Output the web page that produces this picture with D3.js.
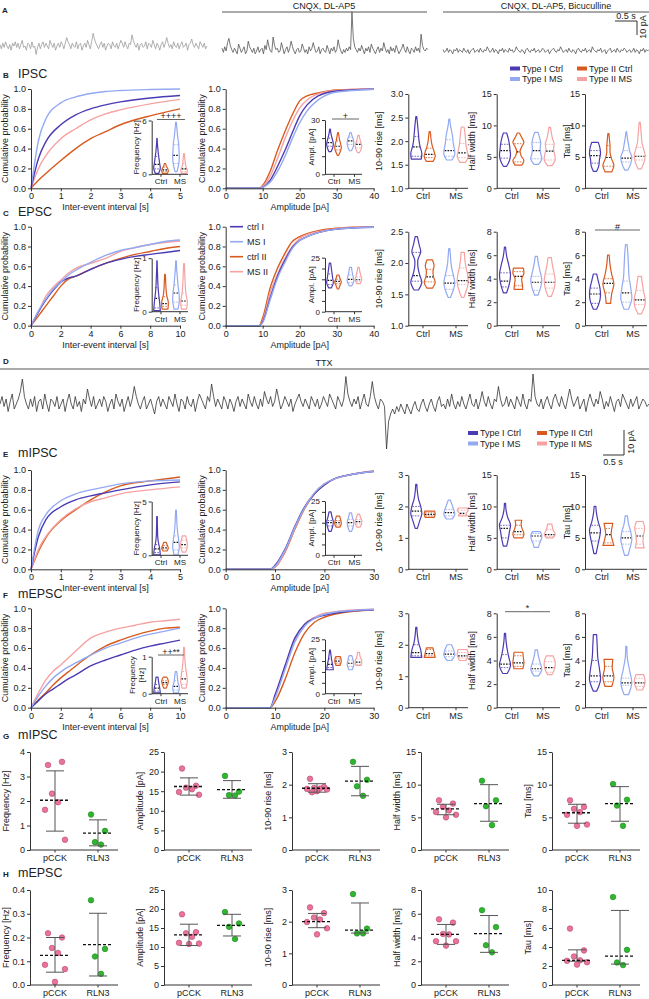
<!DOCTYPE html>
<html>
<head>
<meta charset="utf-8">
<script src="https://cdn.jsdelivr.net/npm/d3@7"></script>
<style>
  body { margin: 0; background: #fff; }
  svg { display: block; }
</style>
</head>
<body>
<svg id="fig" width="649" height="999"></svg>
<script>
const FONT = "'Liberation Sans', Arial, sans-serif";
const AX = "#333";
const svg = d3.select("#fig").attr("font-family", FONT);

// ---------- data ----------
// group order everywhere: ctrl I, MS I, ctrl II, MS II
const groupNames = ["ctrl I", "MS I", "ctrl II", "MS II"];
const legendNames = ["Type I Ctrl", "Type I MS", "Type II Ctrl", "Type II MS"];
const groupColors = ["#4b3bb3", "#93a9f2", "#d95a1e", "#f6a2a2"];
const conditions = ["Ctrl", "MS"];
const cellTypes = ["pCCK", "RLN3"];

// example traces, pA (events point up)
const traceA1 = [1,-2,2,-1,3,0,-2,1,-3,2, 0,3,-1,2,-2,1,4,-1,0,-3, 2,1,-2,3,-1,0,-6,-1,2,-2, 1,3,-1,2,0,-2,4,1,-1,2,
  -3,0,2,-1,3,1,-2,2,6,3, 1,-2,2,0,-1,3,-2,1,2,-3, 0,2,-1,4,1,-2,3,9,5,2, 0,-2,1,3,-1,2,-3,0,2,1,
  -2,3,0,-1,2,-2,1,4,2,-1, 3,0,-2,2,1,8,4,1,-1,2, -3,1,2,-1,0,3,-2,2,1,-1, 4,1,-2,2,0,-3,1,3,-1,2,
  6,2,-1,1,-2,3,0,-1,2,-2, 1,3,-1,0,2,-3,1,2,5,1, -1,2,0,-2,3,1,-1,2,-2,0];
const traceA2 = [2,-1,3,0,6,9,4,1,-1,2, 0,-2,5,2,-1,1,3,-2,0,7, 3,1,-1,2,-2,0,3,-1,1,2, -2,4,1,8,3,0,-1,10,4,1,
  2,-1,0,6,2,-2,1,3,-1,2, 7,3,0,-2,1,2,-1,0,5,2, -1,1,-2,3,0,2,6,2,-1,0, 3,-2,1,2,0,-1,4,1,-2,2,
  0,3,-1,1,8,3,0,-2,1,-1, 2,0,3,1,28,9,3,1,-1,2, 0,4,1,-2,2,0,3,-1,5,2, 0,-2,1,3,-1,2,0,6,2,-1,
  1,-2,3,0,2,-1,4,1,-2,0, 2,5,1,-1,3,0,-2,2,1,-1, 3,0,2,-1,12,4,1,0,2,1];
const traceA3 = [1,-1,0,2,-1,1,0,-2,1,0, 2,-1,1,0,-1,2,0,-1,1,-2, 0,1,2,-1,0,1,-1,2,0,-1, 1,0,3,1,-1,0,2,-1,1,0,
  -2,1,0,2,-1,1,0,-1,2,0, 1,-1,0,3,1,0,-1,1,0,-2, 1,2,0,-1,1,0,2,-1,0,1, -1,0,2,1,-1,0,1,-2,0,1,
  2,0,-1,1,0,3,1,-1,0,1, -1,2,0,-1,1,0,-2,1,2,0, -1,1,0,2,-1,0,1,-1,3,1, 0,-1,1,0,2,-1,0,1,-2,0,
  1,2,-1,0,1,-1,2,0,-1,1, 0,2,1,-1,0,1,-1,0,2,-1, 1,0,-2,1,0,2,-1,1,0,1];
const traceD = [0,3,-1,2,-3,1,4,-2,0,2, 5,10,3,0,-2,2,-1,3,-3,1, 2,-2,4,0,-3,2,1,-1,3,-2, 0,2,-3,1,4,0,-2,3,-1,1,
  -3,2,0,6,2,-1,3,-2,0,2, -1,3,1,-3,0,2,-2,4,1,-1, 2,-3,0,3,-1,2,7,3,0,-2, 1,3,-2,0,2,-1,-4,1,3,-1,
  2,0,-2,3,1,-1,4,0,-3,2, 1,-2,3,0,-1,2,-3,1,4,2, 0,-2,3,1,8,3,-1,2,0,-2, 3,1,-2,2,0,-3,1,3,-1,2,
  0,-2,4,1,-1,3,0,-2,2,-1, 5,2,0,3,-1,1,6,2,-2,0, 3,1,-1,2,-3,0,2,4,1,-1, 2,0,-2,3,1,-1,2,-2,0,3,
  1,-1,4,2,0,-2,3,1,-1,2, 11,4,1,-1,2,0,3,-2,1,4, 0,-1,3,9,3,0,-2,2,1,-1, -18,-7,-4,-2,-4,-1,-3,0,-2,-4,
  0,-2,-4,-1,1,-2,-3,0,2,-1, -3,0,2,-1,-3,1,3,-1,0,-2, 2,-1,4,0,-2,1,-1,3,0,-2, 1,4,0,-1,2,-2,1,5,1,-1,
  3,0,-2,2,1,7,2,-1,0,3, -1,2,0,-2,3,1,-1,4,0,-2, 2,1,12,3,0,-1,2,-2,1,3, 0,-2,2,4,1,-1,3,0,-2,2,
  6,2,-1,1,3,-2,0,2,-3,1, 4,1,-1,2,0,5,2,-2,1,-1, 3,0,-3,1,2,-1,4,2,0,-2, 2,-1,1,3,-2,0,2,1,-1,0];

// cumulative distributions: x grids and y values per group
const ieiX5 = [0,0.25,0.5,1,1.5,2,2.5,3,4,5];
const ieiX10 = [0,0.5,1,1.5,2,2.5,3,4,5,6,7,8,9,10];
const ampX40 = [0,9,10,12,14,16,18,20,22,25,30,40];
const ampX30 = [0,9,10,12,14,16,18,20,22,25,30];

const ipscIei = [
  [0,0.3,0.47,0.64,0.74,0.8,0.84,0.87,0.91,0.935],
  [0,0.48,0.7,0.86,0.92,0.955,0.975,0.985,0.995,1.0],
  [0,0.08,0.15,0.28,0.4,0.5,0.57,0.64,0.73,0.8],
  [0,0.2,0.33,0.5,0.6,0.69,0.75,0.79,0.85,0.895]];
const ipscAmp = [
  [0,0,0.01,0.08,0.22,0.38,0.56,0.73,0.84,0.93,0.98,0.998],
  [0,0,0.01,0.06,0.17,0.32,0.5,0.66,0.78,0.89,0.97,0.998],
  [0,0,0.03,0.17,0.38,0.57,0.74,0.88,0.93,0.96,0.99,1],
  [0,0,0.02,0.12,0.3,0.5,0.67,0.81,0.89,0.95,0.985,1]];
const epscIei = [
  [0,0.14,0.26,0.36,0.44,0.48,0.5,0.57,0.63,0.67,0.7,0.72,0.74,0.76],
  [0,0.15,0.27,0.37,0.44,0.51,0.56,0.64,0.71,0.76,0.79,0.82,0.85,0.865],
  [0,0.1,0.2,0.3,0.4,0.47,0.5,0.57,0.63,0.68,0.72,0.75,0.78,0.8],
  [0,0.14,0.3,0.39,0.46,0.53,0.58,0.63,0.68,0.75,0.79,0.82,0.84,0.855]];
const epscAmp = [
  [0,0,0.04,0.28,0.5,0.66,0.79,0.86,0.9,0.94,0.975,0.995],
  [0,0,0.03,0.26,0.48,0.64,0.78,0.86,0.9,0.94,0.975,0.995],
  [0,0,0.08,0.38,0.58,0.73,0.85,0.9,0.93,0.96,0.985,1],
  [0,0,0.05,0.33,0.52,0.68,0.8,0.88,0.92,0.95,0.98,1]];
const mipscIei = [
  [0,0.33,0.5,0.63,0.7,0.74,0.77,0.8,0.85,0.88],
  [0,0.4,0.55,0.69,0.76,0.8,0.83,0.86,0.89,0.9],
  [0,0.18,0.32,0.49,0.6,0.7,0.78,0.84,0.89,0.93],
  [0,0.2,0.33,0.5,0.61,0.68,0.72,0.76,0.8,0.83]];
const mipscAmp = [
  [0,0,0.04,0.2,0.43,0.63,0.76,0.85,0.91,0.95,0.985],
  [0,0,0.03,0.19,0.42,0.62,0.77,0.86,0.91,0.95,0.985],
  [0,0,0.02,0.17,0.4,0.61,0.76,0.85,0.91,0.95,0.99],
  [0,0,0.02,0.18,0.41,0.62,0.77,0.86,0.91,0.95,0.99]];
const mepscIei = [
  [0,0.07,0.14,0.19,0.24,0.29,0.33,0.42,0.48,0.53,0.58,0.62,0.65,0.68],
  [0,0.12,0.22,0.3,0.36,0.41,0.45,0.53,0.6,0.65,0.7,0.74,0.77,0.8],
  [0,0.08,0.15,0.23,0.3,0.36,0.42,0.53,0.62,0.68,0.73,0.77,0.8,0.81],
  [0,0.15,0.28,0.37,0.43,0.5,0.57,0.7,0.76,0.8,0.83,0.86,0.875,0.89]];
const mepscAmp = [
  [0,0,0.13,0.42,0.7,0.84,0.9,0.93,0.95,0.97,0.985],
  [0,0,0.1,0.38,0.66,0.82,0.9,0.94,0.96,0.975,0.99],
  [0,0,0.06,0.28,0.55,0.75,0.86,0.91,0.94,0.965,0.985],
  [0,0,0.11,0.4,0.68,0.84,0.91,0.95,0.965,0.98,0.99]];

// violins: [min, max, q1, median, q3, relative widths from min to max]
const ipscFreqV = [[0.1,4.0,0.6,1.1,2.0,[0.5,1,0.8,0.6,0.4,0.25,0.12,0.05]],[0.3,5.8,1.2,2.1,3.3,[0.3,0.8,1,0.9,0.8,0.5,0.3,0.12]],[0.1,1.2,0.3,0.5,0.8,[0.7,1,0.8,0.4,0.2]],[0.1,2.3,0.3,0.6,1.2,[0.8,1,0.6,0.4,0.3,0.2,0.1]]];
const ipscAmpV = [[12.5,25,15.5,17.5,20,[0.3,0.8,1,0.8,0.5,0.25,0.1]],[13,23,16.5,18.5,20.5,[0.3,0.8,1,0.9,0.5,0.2]],[10.5,23,13.5,15.5,18.5,[0.2,0.7,1,0.8,0.5,0.3,0.1]],[12,21.5,14.5,16.5,18,[0.3,0.8,1,0.7,0.4,0.2]]];
const ipscRise = [[1.62,2.52,1.68,1.88,2.1,[0.9,1,0.7,0.5,0.4,0.3,0.2,0.08]],[1.6,2.47,1.68,1.8,2.03,[0.5,1,0.9,0.7,0.6,0.4,0.2,0.08]],[1.57,2.2,1.65,1.72,1.85,[0.6,1,0.8,0.5,0.3,0.2,0.1]],[1.55,2.3,1.65,1.75,1.95,[0.5,1,0.8,0.6,0.5,0.4,0.25]]];
const ipscHalf = [[3.5,8.8,4.8,6.0,7.0,[0.3,0.8,1,0.9,0.8,0.6,0.3]],[3.8,8.9,4.7,6.0,7.3,[0.4,1,0.8,0.7,0.8,0.6,0.3]],[3.7,8.8,4.2,5.8,7.1,[0.6,1,0.5,0.3,0.6,1,0.6,0.2]],[3.6,9.7,4.5,5.9,7.0,[0.4,1,0.9,0.7,0.8,0.5,0.3,0.15]]];
const ipscTau = [[2.7,7.3,4.0,5.2,6.0,[0.3,0.7,0.8,1,0.9,0.6]],[2.9,9.0,4.2,4.8,6.0,[0.3,0.8,1,0.6,0.4,0.2,0.05]],[2.6,8.7,3.5,4.9,6.8,[0.6,1,0.6,0.3,0.3,0.2,0.1]],[3.1,10.5,4.5,5.1,6.5,[0.3,0.8,1,0.7,0.4,0.3,0.2,0.1]]];

const epscFreqV = [[0.02,0.95,0.07,0.25,0.45,[1,0.8,0.5,0.3,0.2,0.1,0.05]],[0.05,0.95,0.18,0.35,0.5,[0.6,1,0.9,0.6,0.4,0.2,0.1]],[0.05,0.7,0.1,0.15,0.28,[0.9,1,0.5,0.3,0.2,0.1]],[0.05,0.9,0.12,0.2,0.35,[0.8,1,0.6,0.4,0.3,0.2,0.1]]];
const epscAmpV = [[11,22.5,12.5,14.5,17.5,[0.4,1,0.8,0.6,0.4,0.2]],[12,20.5,13.5,15,17,[0.4,1,0.8,0.5,0.3]],[10.5,17,13,14,15,[0.2,0.6,1,0.6,0.3]],[13,20.5,14,14.8,16,[0.5,1,0.7,0.4,0.2]]];
const epscRise = [[1.57,2.42,1.71,1.8,2.17,[0.4,1,0.6,0.3,0.3,0.8,0.5,0.2]],[1.45,2.23,1.58,1.68,1.8,[0.2,0.7,1,0.8,0.5,0.3,0.2,0.1]],[1.6,2.05,1.7,1.78,1.9,[0.5,1,0.7,0.6,0.8,0.5]],[1.45,2.17,1.66,1.72,1.92,[0.2,0.7,1,0.9,0.6,0.4,0.3]]];
const epscHalf = [[2.8,6.7,3.3,3.8,4.5,[0.3,0.8,1,0.7,0.3,0.1]],[2.6,5.9,3.0,3.7,4.2,[0.3,0.8,1,0.7,0.4,0.2]],[3.1,4.9,3.4,4.2,4.6,[0.8,0.7,0.6,1,0.9]],[2.5,5.8,3.2,3.7,4.4,[0.3,0.8,1,0.8,0.5,0.3]]];
const epscTau = [[1.4,4.4,1.9,2.7,3.2,[0.3,0.8,1,0.9,0.6,0.3]],[1.4,6.9,2.0,2.8,3.8,[0.4,1,0.8,0.5,0.4,0.3,0.15]],[1.9,6.0,2.8,3.6,4.0,[0.4,0.6,1,0.6,0.3,0.15]],[1.0,4.2,1.8,2.2,3.0,[0.3,0.9,1,0.7,0.5,0.3]]];

const mipscFreqV = [[0.05,3.6,0.25,0.6,1.0,[1,0.8,0.4,0.2,0.15,0.1,0.1]],[0.05,4.2,0.5,1.2,1.8,[0.6,1,0.8,0.5,0.3,0.2,0.1]],[0.4,1.2,0.6,0.7,0.9,[0.6,1,0.7,0.4]],[0.3,1.8,0.7,1.0,1.4,[0.5,0.9,1,0.8,0.5]]];
const mipscAmpV = [[11,20,13.5,15,16,[0.3,0.8,1,0.6,0.3]],[11,19.5,13.5,15,16.5,[0.3,0.8,1,0.6,0.3]],[13,18,14,15,16,[0.6,1,0.8,0.5]],[13,19,14.5,15.5,16.5,[0.5,0.9,1,0.6,0.3]]];
const mipscRise = [[1.3,2.7,1.7,1.85,2.0,[0.2,0.6,1,0.8,0.4,0.2,0.1]],[1.6,2.2,1.7,1.8,1.9,[0.5,1,0.8,0.5,0.2]],[1.65,1.85,1.7,1.75,1.8,[0.8,1,0.9]],[1.7,1.95,1.73,1.78,1.88,[0.8,0.6,1,0.7]]];
const mipscHalf = [[3.7,10.5,5.0,6.5,7.0,[0.3,0.6,0.8,1,0.5,0.2,0.1]],[3.5,6.0,4.5,5.3,5.7,[0.4,0.6,0.9,1,0.7]],[5.0,7.8,5.5,6.0,7.0,[0.8,1,0.7,0.5,0.6]],[5.0,7.2,5.2,5.5,6.3,[0.6,1,0.7,0.5,0.4]]];
const mipscTau = [[2.5,10.0,4.5,5.8,7.0,[0.2,0.5,0.8,1,0.6,0.3,0.15]],[2.2,8.5,4.0,5.0,6.0,[0.3,0.7,1,0.8,0.4,0.2]],[3.8,7.3,4.2,5.5,6.5,[1,0.7,0.5,0.6,0.8]],[3.4,7.6,4.0,5.3,6.5,[0.8,0.6,0.7,0.9,0.6]]];

const mepscFreqV = [[0.02,0.45,0.07,0.15,0.25,[1,0.8,0.5,0.3]],[0.02,0.6,0.1,0.2,0.35,[0.7,1,0.6,0.4,0.2]],[0.15,0.45,0.25,0.3,0.35,[0.4,0.8,1,0.5]],[0.15,1.25,0.25,0.4,0.6,[0.6,1,0.8,0.5,0.3,0.2,0.1]]];
const mepscAmpV = [[11,20,12,13.5,16,[1,0.8,0.5,0.3,0.1]],[11,17.5,12.5,14,15.5,[0.5,1,0.8,0.4]],[13,17,14,15,16,[0.6,1,0.7]],[13,19,13.5,14.5,16,[0.8,1,0.5,0.3]]];
const mepscRise = [[1.6,2.55,1.65,1.75,2.0,[1,0.8,0.4,0.2,0.1]],[1.5,2.0,1.62,1.7,1.8,[0.4,1,0.8,0.4]],[1.6,1.9,1.65,1.72,1.85,[1,0.8,0.6]],[1.5,1.85,1.58,1.65,1.75,[0.6,1,0.8]]];
const mepscHalf = [[2.9,6.3,3.4,3.7,4.5,[0.4,1,0.7,0.4,0.2,0.1]],[2.7,4.9,3.1,3.3,3.7,[0.4,1,0.7,0.4,0.2]],[3.3,4.7,3.5,3.8,4.4,[0.8,1,0.9,0.8]],[2.8,4.4,3.0,3.4,3.9,[0.4,0.9,1,0.6]]];
const mepscTau = [[1.4,6.2,2.2,2.7,4.0,[0.3,1,0.8,0.5,0.4,0.3]],[1.1,5.2,1.9,2.1,2.5,[0.4,1,0.6,0.2,0.1]],[1.8,4.1,2.2,2.7,3.5,[0.6,1,0.7,0.8]],[1.5,2.8,1.8,2.1,2.5,[0.5,1,0.7]]];

// G / H: single cells, pCCK and RLN3; summary = [median, q1, q3]
const gFreq = [[3.47,3.6,2.3,1.95,1.64,0.42],[1.45,0.78,0.32,0.22]];
const gFreqSum = [[2.03,0.77,3.23],[0.69,0.17,1.23]];
const gAmp = [[20.8,16.4,15.9,15.5,14.8,14.1],[18.9,14.9,14.0,13.9]];
const gAmpSum = [[16.2,14.0,18.4],[15.4,13.2,17.7]];
const gRise = [[2.18,1.93,1.9,1.88,1.87,1.85,1.8,1.77],[2.7,2.15,1.95,1.66]];
const gRiseSum = [[1.89,1.77,2.03],[2.11,1.66,2.56]];
const gHalf = [[7.6,7.1,6.6,6.05,5.8,5.4,5.0],[10.6,7.6,6.7,3.8]];
const gHalfSum = [[6.3,5.4,7.0],[7.1,4.4,10.0]];
const gTau = [[7.6,6.6,6.3,5.8,5.4,3.9,3.7],[10.1,7.7,6.8,3.7]];
const gTauSum = [[5.7,4.1,7.0],[7.1,4.4,9.7]];

const hFreq = [[0.218,0.2,0.156,0.135,0.085,0.067,0.013],[0.357,0.152,0.12,0.047]];
const hFreqSum = [[0.125,0.054,0.2],[0.17,0.038,0.302]];
const hAmp = [[18.6,13.9,13.6,12.7,11.1,10.9,10.8],[19.2,16.2,15.3,12.1]];
const hAmpSum = [[13.2,10.4,16.0],[15.7,12.9,18.6]];
const hRise = [[2.45,2.27,2.13,2.07,1.99,1.79,1.6],[2.87,1.78,1.63,1.63]];
const hRiseSum = [[2.0,1.81,2.26],[1.73,1.64,2.59]];
const hHalf = [[5.53,5.25,4.3,4.26,3.69,3.69,3.32],[6.3,4.88,3.35,2.75]];
const hHalfSum = [[4.26,3.42,5.1],[4.33,2.75,5.85]];
const hTau = [[5.94,3.64,3.0,2.6,2.55,2.4,2.15],[9.26,3.7,2.37,2.1]];
const hTauSum = [[2.6,2.5,3.7],[3.05,2.2,7.85]];

// ---------- helpers ----------
function styleAxis(sel, fs) {
  sel.attr("font-family", FONT).attr("font-size", fs || 9);
  sel.select(".domain").attr("stroke", AX).attr("stroke-width", 1);
  sel.selectAll(".tick line").attr("stroke", AX);
  sel.selectAll(".tick text").attr("fill", "#222");
}

function addText(x, y, str, o) {
  o = o || {};
  const t = svg.append("text").attr("x", x).attr("y", y).text(str)
    .attr("font-size", o.fs || 9).attr("fill", o.fill || "#222")
    .attr("text-anchor", o.anchor || "start");
  if (o.bold) t.attr("font-weight", "bold");
  return t;
}

function vText(x, y, str, fs) {
  svg.append("text").attr("transform", `translate(${x},${y}) rotate(-90)`)
    .attr("text-anchor", "middle").attr("dominant-baseline", "middle")
    .attr("font-size", fs || 9).attr("fill", "#222").text(str);
}

function panelTitle(y, letter, title) {
  addText(3, y, letter, { fs: 8, bold: true });
  addText(18, y, title, { fs: 12.5 });
}

function drawTrace(values, x0, x1, base, pxPer10, color) {
  const x = d3.scaleLinear().domain([0, values.length - 1]).range([x0, x1]);
  const y = d3.scaleLinear().domain([0, 10]).range([base, base - pxPer10]);
  const line = d3.line().x((d, i) => x(i)).y(d => y(d));
  svg.append("path").attr("d", line(values)).attr("fill", "none")
    .attr("stroke", color).attr("stroke-width", 0.8).attr("stroke-linejoin", "round");
}

function hLine(x1, x2, y, color) {
  svg.append("line").attr("x1", x1).attr("x2", x2).attr("y1", y).attr("y2", y)
    .attr("stroke", color || "#555").attr("stroke-width", 1);
}

function sigMark(x1, x2, y, str) {
  hLine(x1, x2, y, "#666");
  addText((x1 + x2) / 2, y - 0.5, str, { fs: 9, anchor: "middle" });
}

function cumPanel(o) {
  const x = d3.scaleLinear().domain([o.xs[0], o.xs[o.xs.length - 1]]).range([o.x0, o.x1]);
  const y = d3.scaleLinear().domain([0, 1]).range([o.bot, o.top]);
  const line = d3.line().x((d, i) => x(o.xs[i])).y(d => y(d)).curve(d3.curveMonotoneX);
  [2, 3, 0, 1].forEach(k => {
    svg.append("path").attr("d", line(o.ys[k])).attr("fill", "none")
      .attr("stroke", groupColors[k]).attr("stroke-width", 1.4);
  });
  svg.append("g").attr("transform", `translate(0,${o.bot})`)
    .call(d3.axisBottom(x).tickValues(o.xTicks).tickSize(3).tickSizeOuter(0).tickPadding(1.5).tickFormat(d3.format("d")))
    .call(styleAxis);
  svg.append("g").attr("transform", `translate(${o.x0},0)`)
    .call(d3.axisLeft(y).tickValues([0, 0.2, 0.4, 0.6, 0.8, 1]).tickSize(3).tickSizeOuter(0).tickPadding(2).tickFormat(d3.format(".1f")))
    .call(styleAxis);
  addText((o.x0 + o.x1) / 2, o.bot + 22, o.xLabel, { anchor: "middle" });
  vText(o.labX, (o.top + o.bot) / 2, "Cumulative probability");
}

function drawViolin(y, cx, v, color, maxW) {
  const [lo, hi, q1, med, q3, w] = v;
  const n = w.length;
  const prof = w.map((wi, i) => ({ v: lo + (hi - lo) * i / (n - 1), w: wi }));
  const area = d3.area().y(p => y(p.v)).x0(p => cx - p.w * maxW).x1(p => cx + p.w * maxW)
    .curve(d3.curveCatmullRom);
  svg.append("path").attr("d", area(prof)).attr("fill", "#fff")
    .attr("stroke", color).attr("stroke-width", 1.2).attr("stroke-linejoin", "round");
  const wAt = val => {
    const t = (val - lo) / (hi - lo) * (n - 1);
    const i = Math.max(0, Math.min(n - 2, Math.floor(t)));
    return w[i] + (w[i + 1] - w[i]) * (t - i);
  };
  [[q1, color, 0.8], [q3, color, 0.8], [med, "#111", 1.2]].forEach(([val, c, sw]) => {
    const hw = Math.max(wAt(val) * maxW - 0.6, 1.5);
    svg.append("line").attr("x1", cx - hw).attr("x2", cx + hw)
      .attr("y1", y(val)).attr("y2", y(val))
      .attr("stroke", c).attr("stroke-width", sw).attr("stroke-dasharray", "1.6,1.2");
  });
}

function violinPanel(o) {
  const y = d3.scaleLinear().domain(o.domain).range([o.bot, o.top]);
  const cx = [o.ctrl, o.ms];
  // ctrl I, MS I, ctrl II, MS II
  const centers = [cx[0] - o.d, cx[1] - o.d, cx[0] + o.d, cx[1] + o.d];
  o.data.forEach((v, k) => drawViolin(y, centers[k], v, groupColors[k], o.maxW));
  const ax = d3.axisLeft(y).tickValues(o.ticks).tickSize(3).tickSizeOuter(0).tickPadding(2)
    .tickFormat(o.fmt ? d3.format(o.fmt) : (d => (o.labelled && o.labelled.indexOf(d) < 0) ? "" : d));
  svg.append("g").attr("transform", `translate(${o.x0},0)`).call(ax).call(g => styleAxis(g, o.fs));
  const xs = d3.scaleOrdinal().domain(conditions).range(cx);
  svg.append("line").attr("x1", o.x0).attr("x2", o.xEnd).attr("y1", o.bot).attr("y2", o.bot)
    .attr("stroke", AX).attr("stroke-width", 1);
  conditions.forEach(c => {
    svg.append("line").attr("x1", xs(c)).attr("x2", xs(c)).attr("y1", o.bot).attr("y2", o.bot + 2.5)
      .attr("stroke", AX);
    addText(xs(c), o.bot + (o.fs || 9) + 2, c, { fs: o.fs || 9, anchor: "middle" });
  });
  if (o.label2) {
    vText(o.labX - 4.5, (o.top + o.bot) / 2, o.label, o.fs);
    vText(o.labX + 5, (o.top + o.bot) / 2, o.label2, o.fs);
  } else {
    vText(o.labX, (o.top + o.bot) / 2, o.label, o.fs);
  }
}

function dotPanel(o) {
  const y = d3.scaleLinear().domain(o.domain).range([o.bot, o.top]);
  const x = d3.scaleOrdinal().domain(cellTypes).range([o.x0 + 25, o.x0 + 68]);
  const fills = ["#ea739d", "#2fb52f"], strokes = ["#b9486f", "#208a20"];
  const jit = [-7, 7, -3, 3, -10, 10, 0, -5];
  cellTypes.forEach((c, k) => {
    const [med, q1, q3] = o.sum[k];
    const cx = x(c);
    o.pts[k].forEach((v, i) => {
      svg.append("circle").attr("cx", cx + jit[i % jit.length]).attr("cy", y(v)).attr("r", 2.8)
        .attr("fill", fills[k]).attr("stroke", strokes[k]).attr("stroke-width", 0.6);
    });
    svg.append("line").attr("x1", cx).attr("x2", cx).attr("y1", y(q1)).attr("y2", y(q3))
      .attr("stroke", "#555").attr("stroke-width", 1);
    [q1, q3].forEach(v => hLine(cx - 9, cx + 9, y(v), "#555"));
    svg.append("line").attr("x1", cx - 15).attr("x2", cx + 15).attr("y1", y(med)).attr("y2", y(med))
      .attr("stroke", "#111").attr("stroke-width", 1.3).attr("stroke-dasharray", "3,2");
  });
  svg.append("g").attr("transform", `translate(${o.x0},0)`)
    .call(d3.axisLeft(y).tickValues(o.ticks).tickSize(3).tickSizeOuter(0).tickPadding(2).tickFormat(d3.format(o.fmt)))
    .call(styleAxis);
  svg.append("line").attr("x1", o.x0).attr("x2", o.x0 + 88).attr("y1", o.bot).attr("y2", o.bot)
    .attr("stroke", AX);
  cellTypes.forEach(c => {
    svg.append("line").attr("x1", x(c)).attr("x2", x(c)).attr("y1", o.bot).attr("y2", o.bot + 2.5).attr("stroke", AX);
    addText(x(c), o.bot + 11, c, { anchor: "middle" });
  });
  vText(o.x0 - 23, (o.top + o.bot) / 2, o.label);
}

function legendBlock(x1, x2, yRow1) {
  const pos = [[x1, yRow1], [x1, yRow1 + 10.5], [x2, yRow1], [x2, yRow1 + 10.5]];
  legendNames.forEach((n, k) => {
    svg.append("rect").attr("x", pos[k][0]).attr("y", pos[k][1] - 2).attr("width", 10).attr("height", 4)
      .attr("fill", groupColors[k]);
    addText(pos[k][0] + 12, pos[k][1] + 3.2, n, { fs: 9 });
  });
}

// ---------- A: traces ----------
addText(2, 13, "A", { fs: 8, bold: true });
drawTrace(traceA1, 0, 207, 46, 14, "#9a9a9a");
drawTrace(traceA2, 222, 428, 51, 14, "#555");
drawTrace(traceA3, 443, 649, 51, 14, "#555");
hLine(222, 427, 12, "#555");
addText(324, 8.5, "CNQX, DL-AP5", { anchor: "middle" });
hLine(443, 649, 12, "#555");
addText(556, 8.5, "CNQX, DL-AP5, Bicuculline", { anchor: "middle" });
hLine(615, 637, 21, "#333");
svg.append("line").attr("x1", 637).attr("x2", 637).attr("y1", 21).attr("y2", 35).attr("stroke", "#333");
addText(626, 19, "0.5 s", { anchor: "middle" });
vText(644, 27, "10 pA");

// columns
const cumIei = { x0: 31, x1: 180, labX: 6 };
const cumAmp = { x0: 225.7, x1: 373.7, labX: 203 };
const freqIn = { x0: 151.7, xEnd: 188, ctrl: 161, ms: 180, labX: 137 };
const ampIn = { x0: 325, xEnd: 362, ctrl: 334, ms: 354.5, labX: 312 };
const vCols = [
  { x0: 408.3, xEnd: 468, ctrl: 423, ms: 456, labX: 380, label: "10-90 rise [ms]" },
  { x0: 496.7, xEnd: 560, ctrl: 511.7, ms: 543, labX: 473, label: "Half width [ms]" },
  { x0: 585, xEnd: 647, ctrl: 601.7, ms: 633, labX: 568, label: "Tau [ms]" }];

function summaryRow(r) {
  panelTitle(r.titleY, r.letter, r.title);
  cumPanel({ ...cumIei, top: r.top, bot: r.bot, xs: r.ieiX, ys: r.iei, xTicks: r.ieiTicks, xLabel: "Inter-event interval [s]" });
  cumPanel({ ...cumAmp, top: r.top, bot: r.bot, xs: r.ampX, ys: r.amp, xTicks: r.ampTicks, xLabel: "Amplitude [pA]" });
  violinPanel({ ...freqIn, top: r.fTop || r.top + 31.5, bot: r.bot - 14, domain: [0, r.fMax], ticks: [0, r.fMax],
    d: 4, maxW: 3.3, fs: 8, data: r.freqV, label: r.fLabel || "Frequency [Hz]", label2: r.fLabel2 });
  violinPanel({ ...ampIn, top: r.top + 31, bot: r.bot - 14, domain: [0, r.aMax], ticks: r.aTicks, labelled: [0, r.aMax],
    d: 4, maxW: 3.3, fs: 8, data: r.ampV, label: "Ampl. [pA]" });
  r.cols.forEach((c, i) => violinPanel({ ...vCols[i], top: r.top + 5, bot: r.bot, d: 6.7, maxW: 5.5, fs: 9, ...c }));
}

// ---------- B ----------
summaryRow({ letter: "B", title: "IPSC", titleY: 78, top: 89, bot: 188.3,
  ieiX: ieiX5, iei: ipscIei, ieiTicks: [0, 1, 2, 3, 4, 5], ampX: ampX40, amp: ipscAmp, ampTicks: [0, 10, 20, 30, 40],
  fMax: 6, freqV: ipscFreqV, aMax: 30, aTicks: [0, 10, 20, 30], ampV: ipscAmpV,
  cols: [{ domain: [1, 3], ticks: [1, 1.5, 2, 2.5, 3], fmt: ".1f", data: ipscRise },
         { domain: [0, 15], ticks: [0, 5, 10, 15], data: ipscHalf },
         { domain: [0, 15], ticks: [0, 5, 10, 15], data: ipscTau }] });
legendBlock(510, 577, 68.5);
sigMark(157, 185, 119.5, "++++");
sigMark(332, 359, 119, "+");

// ---------- C ----------
summaryRow({ letter: "C", title: "EPSC", titleY: 216, top: 226.7, bot: 325.7,
  ieiX: ieiX10, iei: epscIei, ieiTicks: [0, 2, 4, 6, 8, 10], ampX: ampX40, amp: epscAmp, ampTicks: [0, 10, 20, 30, 40],
  fMax: 1, freqV: epscFreqV, aMax: 25, aTicks: [0, 5, 10, 15, 20, 25], ampV: epscAmpV,
  cols: [{ domain: [1, 2.5], ticks: [1, 1.5, 2, 2.5], fmt: ".1f", data: epscRise },
         { domain: [0, 8], ticks: [0, 2, 4, 6, 8], data: epscHalf },
         { domain: [0, 8], ticks: [0, 2, 4, 6, 8], data: epscTau }] });
sigMark(595, 640, 230, "#");
groupNames.forEach((n, k) => {
  const yy = 226.7 + k * 15;
  svg.append("line").attr("x1", 230).attr("x2", 243).attr("y1", yy).attr("y2", yy)
    .attr("stroke", groupColors[k]).attr("stroke-width", 1.6);
  addText(247, yy + 3.3, n, { fs: 9 });
});

// ---------- D: trace ----------
addText(3, 363.5, "D", { fs: 8, bold: true });
hLine(0, 649, 369, "#555");
addText(324, 366, "TTX", { anchor: "middle" });
drawTrace(traceD, 0, 649, 404, 25, "#333");
legendBlock(468, 537, 433);
svg.append("line").attr("x1", 624).attr("x2", 624).attr("y1", 430).attr("y2", 455).attr("stroke", "#333");
hLine(603, 624, 455, "#333");
addText(613, 464.5, "0.5 s", { anchor: "middle" });
vText(632, 442, "10 pA");

// ---------- E ----------
summaryRow({ letter: "E", title: "mIPSC", titleY: 457, top: 470, bot: 569.3,
  ieiX: ieiX5, iei: mipscIei, ieiTicks: [0, 1, 2, 3, 4, 5], ampX: ampX30, amp: mipscAmp, ampTicks: [0, 10, 20, 30],
  fMax: 5, freqV: mipscFreqV, aMax: 25, aTicks: [0, 5, 10, 15, 20, 25], ampV: mipscAmpV,
  cols: [{ domain: [0, 3], ticks: [0, 1, 2, 3], data: mipscRise },
         { domain: [0, 15], ticks: [0, 5, 10, 15], data: mipscHalf },
         { domain: [0, 15], ticks: [0, 5, 10, 15], data: mipscTau }] });

// ---------- F ----------
summaryRow({ letter: "F", title: "mEPSC", titleY: 598, top: 608.3, bot: 707.7, fTop: 656.7,
  ieiX: ieiX10, iei: mepscIei, ieiTicks: [0, 2, 4, 6, 8, 10], ampX: ampX30, amp: mepscAmp, ampTicks: [0, 10, 20, 30],
  fMax: 1, freqV: mepscFreqV, aMax: 25, aTicks: [0, 5, 10, 15, 20, 25], ampV: mepscAmpV,
  fLabel: "Frequency", fLabel2: "[Hz]",
  cols: [{ domain: [0, 3], ticks: [0, 1, 2, 3], data: mepscRise },
         { domain: [0, 8], ticks: [0, 2, 4, 6, 8], data: mepscHalf },
         { domain: [0, 8], ticks: [0, 2, 4, 6, 8], data: mepscTau }] });
sigMark(158, 184, 655, "++**");
sigMark(505, 550, 611.7, "*");

// ---------- G / H ----------
const dotX = [30, 164, 292, 421, 552];
const dotLabels = ["Frequency [Hz]", "Amplitude [pA]", "10-90 rise [ms]", "Half width [ms]", "Tau [ms]"];
panelTitle(738.5, "G", "mIPSC");
[[gFreq, gFreqSum, [0, 4], [0, 1, 2, 3, 4], "d"],
 [gAmp, gAmpSum, [0, 25], [0, 5, 10, 15, 20, 25], "d"],
 [gRise, gRiseSum, [0, 3], [0, 1, 2, 3], "d"],
 [gHalf, gHalfSum, [0, 15], [0, 5, 10, 15], "d"],
 [gTau, gTauSum, [0, 15], [0, 5, 10, 15], "d"]].forEach((p, i) =>
  dotPanel({ x0: dotX[i], top: 752, bot: 850, pts: p[0], sum: p[1], domain: p[2], ticks: p[3], fmt: p[4], label: dotLabels[i] }));

panelTitle(877, "H", "mEPSC");
[[hFreq, hFreqSum, [0, 0.4], [0, 0.1, 0.2, 0.3, 0.4], ".1f"],
 [hAmp, hAmpSum, [0, 25], [0, 5, 10, 15, 20, 25], "d"],
 [hRise, hRiseSum, [0, 3], [0, 1, 2, 3], "d"],
 [hHalf, hHalfSum, [0, 8], [0, 2, 4, 6, 8], "d"],
 [hTau, hTauSum, [0, 10], [0, 2, 4, 6, 8, 10], "d"]].forEach((p, i) =>
  dotPanel({ x0: dotX[i], top: 890, bot: 985, pts: p[0], sum: p[1], domain: p[2], ticks: p[3], fmt: p[4], label: dotLabels[i] }));
</script>
</body>
</html>
